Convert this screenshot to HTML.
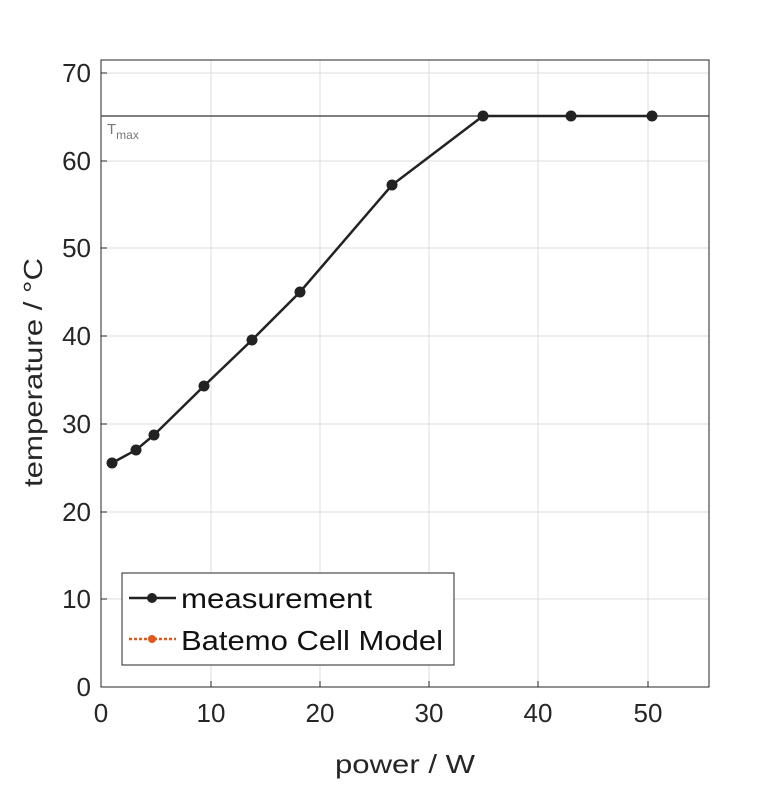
<!DOCTYPE html>
<html><head><style>body{margin:0;background:#fff}</style></head><body>
<svg width="781" height="781" xmlns="http://www.w3.org/2000/svg" font-family="Liberation Sans, sans-serif">
<rect width="781" height="781" fill="#fff"/>
<g stroke="#dcdcdc" stroke-width="1">
<line x1="211" y1="60" x2="211" y2="687"/><line x1="320" y1="60" x2="320" y2="687"/><line x1="429" y1="60" x2="429" y2="687"/><line x1="538" y1="60" x2="538" y2="687"/><line x1="648" y1="60" x2="648" y2="687"/>
<line x1="101" y1="599" x2="709" y2="599"/><line x1="101" y1="512" x2="709" y2="512"/><line x1="101" y1="424" x2="709" y2="424"/><line x1="101" y1="336" x2="709" y2="336"/><line x1="101" y1="248" x2="709" y2="248"/><line x1="101" y1="161" x2="709" y2="161"/><line x1="101" y1="73" x2="709" y2="73"/>
</g>
<rect x="101" y="60" width="608" height="627" fill="none" stroke="#262626" stroke-width="1"/>
<g stroke="#262626">
<line x1="211" y1="687" x2="211" y2="681"/><line x1="320" y1="687" x2="320" y2="681"/><line x1="429" y1="687" x2="429" y2="681"/><line x1="538" y1="687" x2="538" y2="681"/><line x1="648" y1="687" x2="648" y2="681"/>
<line x1="101" y1="599" x2="107" y2="599"/><line x1="101" y1="512" x2="107" y2="512"/><line x1="101" y1="424" x2="107" y2="424"/><line x1="101" y1="336" x2="107" y2="336"/><line x1="101" y1="248" x2="107" y2="248"/><line x1="101" y1="161" x2="107" y2="161"/><line x1="101" y1="73" x2="107" y2="73"/>
</g>
<line x1="101" y1="116" x2="709" y2="116" stroke="#555" stroke-width="1.5"/>
<text x="107" y="134" font-size="15" fill="#777">T<tspan font-size="12" dy="5">max</tspan></text>
<polyline fill="none" stroke="#222" stroke-width="2.5" points="112,463 136,450 154,435 204,386 252,340 300,292 392,185 483,116 571,116 652,116"/>
<g fill="#222">
<circle cx="112" cy="463" r="5.5"/><circle cx="136" cy="450" r="5.5"/><circle cx="154" cy="435" r="5.5"/><circle cx="204" cy="386" r="5.5"/><circle cx="252" cy="340" r="5.5"/><circle cx="300" cy="292" r="5.5"/><circle cx="392" cy="185" r="5.5"/><circle cx="483" cy="116" r="5.5"/><circle cx="571" cy="116" r="5.5"/><circle cx="652" cy="116" r="5.5"/>
</g>
<g font-size="26" fill="#262626" text-anchor="end">
<text x="91" y="696">0</text><text x="91" y="608">10</text><text x="91" y="521">20</text><text x="91" y="433">30</text><text x="91" y="345">40</text><text x="91" y="257">50</text><text x="91" y="170">60</text><text x="91" y="82">70</text>
</g>
<g font-size="26" fill="#262626" text-anchor="middle">
<text x="101" y="722">0</text><text x="211" y="722">10</text><text x="320" y="722">20</text><text x="429" y="722">30</text><text x="538" y="722">40</text><text x="648" y="722">50</text>
</g>
<g font-size="26" fill="#262626">
<text x="335" y="773" textLength="140" lengthAdjust="spacingAndGlyphs">power / W</text>
<text transform="translate(42,487) rotate(-90)" textLength="229" lengthAdjust="spacingAndGlyphs">temperature / °C</text>
</g>
<rect x="122" y="573" width="332" height="92" fill="#fff" stroke="#262626" stroke-width="1"/>
<line x1="129" y1="598" x2="176" y2="598" stroke="#222" stroke-width="2.5"/>
<circle cx="152" cy="598" r="5" fill="#222"/>
<line x1="129" y1="639" x2="176" y2="639" stroke="#e5561a" stroke-width="2.5" stroke-dasharray="3,2"/>
<circle cx="152" cy="639" r="4" fill="#e5561a"/>
<g font-size="28" fill="#111">
<text x="181" y="608" textLength="191" lengthAdjust="spacingAndGlyphs">measurement</text>
<text x="181" y="650" textLength="262" lengthAdjust="spacingAndGlyphs">Batemo Cell Model</text>
</g>
</svg>
</body></html>
